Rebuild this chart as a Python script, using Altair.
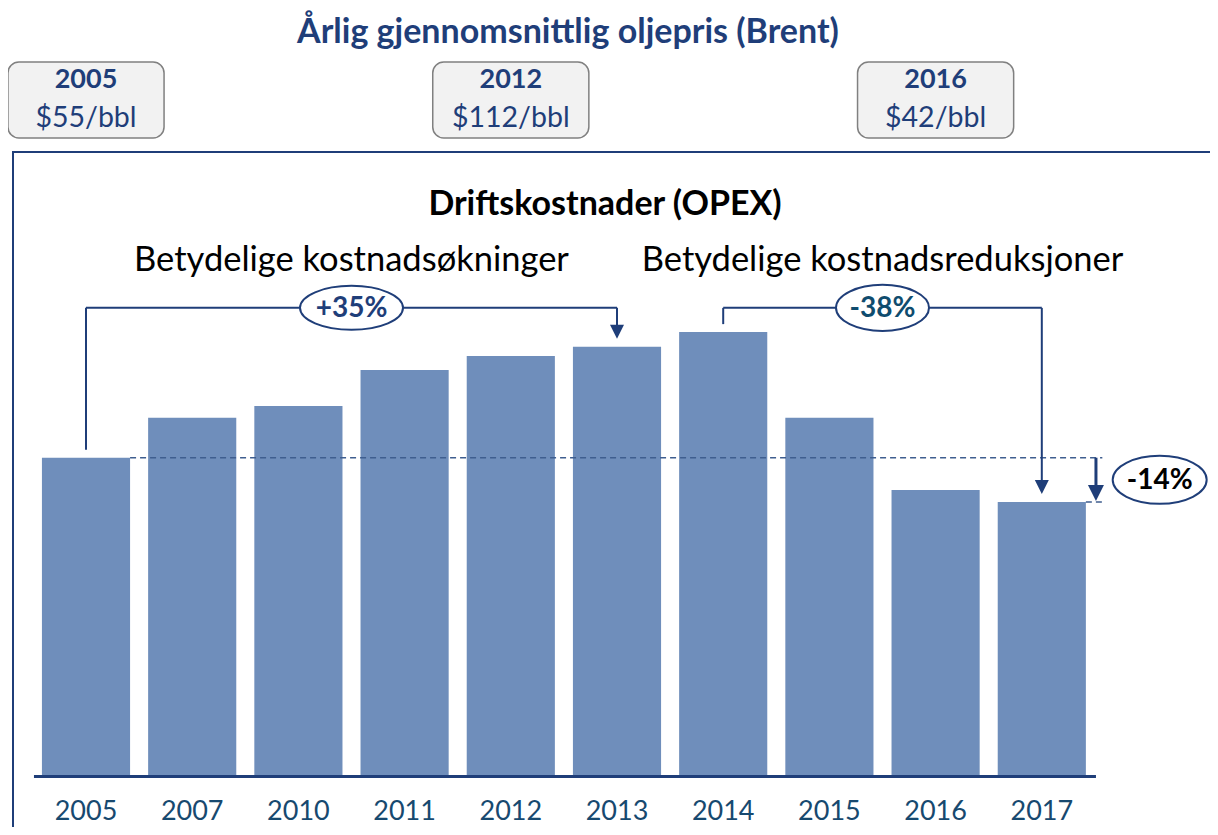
import altair as alt
import pandas as pd

# ---- data ----
years = ["2005", "2007", "2010", "2011", "2012", "2013", "2014", "2015", "2016", "2017"]
opex = [100, 112.5, 116.2, 127.5, 131.9, 134.8, 139.4, 112.5, 89.9, 86.1]   # index, 2005 = 100
price_years = ["2005", "2012", "2016"]
prices = ["$55/bbl", "$112/bbl", "$42/bbl"]
change_labels = ["+35%", "-38%", "-14%"]
headline = "Årlig gjennomsnittlig oljepris (Brent)"
subtitle = "Driftskostnader (OPEX)"
phase_labels = ["Betydelige kostnadsøkninger", "Betydelige kostnadsreduksjoner"]

# ---- layout / style ----
FONT = "Lato"
DARK = "#1F3E79"
TEAL = "#17496F"
BAR = "#6F8EBB"
W, H = 1202, 819
X0, DX = 78, 106.2      # plot px of first bar centre, px per category
Y0, DY = 768.5, 3.188   # plot px of baseline, px per index unit
xs = alt.Scale(domain=[-X0 / DX, (W - X0) / DX], nice=False, zero=False)
ys = alt.Scale(domain=[-(H - Y0) / DY, Y0 / DY], nice=False, zero=False)
HALF = 0.415
TOP = 147
GAP = 2.5

bars_df = pd.DataFrame({
    "idx": list(range(len(years))),
    "year": years,
    "value": opex,
})
bars_df["x1"] = bars_df["idx"] - HALF
bars_df["x2"] = bars_df["idx"] + HALF
bars_df["base"] = 0

X = lambda f: alt.X(f, scale=xs, axis=None)
Y = lambda f: alt.Y(f, scale=ys, axis=None)

bars = alt.Chart(bars_df).mark_bar(color=BAR).encode(
    x=X("x1:Q"), x2="x2:Q", y=Y("value:Q"), y2="base:Q"
)

ticks = alt.Chart(bars_df).mark_text(
    font=FONT, fontSize=27, color=TEAL, baseline="middle"
).encode(x=X("idx:Q"), y=alt.value(804), text="year:N")

last = len(years) - 1
i13, i14 = years.index("2013"), years.index("2014")
base_df = pd.DataFrame({"x": [-0.49], "x2": [last + 0.51], "y": [0]})
baseline = alt.Chart(base_df).mark_rule(color=DARK, strokeWidth=3).encode(
    x=X("x:Q"), x2="x2:Q", y=Y("y:Q")
)

dash_df = pd.DataFrame({
    "x": [HALF, last + HALF],
    "x2": [last + 0.57, last + 0.57],
    "y": [opex[0], opex[last]],
})
dashed = alt.Chart(dash_df).mark_rule(
    color="#3F5E8F", strokeWidth=1.5, strokeDash=[6, 4]
).encode(x=X("x:Q"), x2="x2:Q", y=Y("y:Q"))

seg_df = pd.DataFrame([
    {"x": 0, "x2": 0, "y": opex[0] + GAP, "y2": TOP, "w": 2},
    {"x": 0, "x2": i13, "y": TOP, "y2": TOP, "w": 2},
    {"x": i13, "x2": i13, "y": TOP, "y2": opex[i13] + GAP + 1, "w": 2},
    {"x": i14, "x2": i14, "y": opex[i14] + GAP, "y2": TOP, "w": 2},
    {"x": i14, "x2": last, "y": TOP, "y2": TOP, "w": 2},
    {"x": last, "x2": last, "y": TOP, "y2": opex[last] + GAP + 1, "w": 2},
    {"x": last + 0.51, "x2": last + 0.51, "y": opex[0], "y2": opex[last] + 2, "w": 3},
])
segs = alt.Chart(seg_df).mark_rule(color=DARK, strokeCap="butt").encode(
    x=X("x:Q"), x2="x2:Q", y=Y("y:Q"), y2="y2:Q",
    strokeWidth=alt.StrokeWidth("w:Q", scale=None),
)

ARROW = "M -1 -2 L 1 -2 L 0 0 Z"
tip_df = pd.DataFrame({
    "x": [i13, last, last + 0.51],
    "y": [opex[i13] + GAP, opex[last] + GAP, opex[last] + 0.3],
    "size": [196, 196, 256],
})
tips = alt.Chart(tip_df).mark_point(
    shape=ARROW, filled=True, color=DARK, opacity=1, strokeWidth=0
).encode(x=X("x:Q"), y=Y("y:Q"), size=alt.Size("size:Q", scale=None))


def ellipse(w, h):
    r = round(h / w, 3)
    return f"M -1 0 A 1 {r} 0 1 1 1 0 A 1 {r} 0 1 1 -1 0 Z"


ell_df = pd.DataFrame({
    "x": [i13 / 2, (i14 + last) / 2, last + 1.11],
    "y": [TOP, TOP, (opex[0] + opex[last]) / 2],
    "label": change_labels,
    "shape": [ellipse(103, 44), ellipse(93, 46), ellipse(94, 48)],
    "size": [103 ** 2, 93 ** 2, 94 ** 2],
    "tc": [DARK, "#0F4C6E", "#000000"],
})
ells = alt.Chart(ell_df).mark_point(
    filled=True, color="white", stroke=DARK, strokeWidth=2, opacity=1
).encode(
    x=X("x:Q"), y=Y("y:Q"),
    shape=alt.Shape("shape:N", scale=None),
    size=alt.Size("size:Q", scale=None),
)
ell_txt = alt.Chart(ell_df).mark_text(
    font=FONT, fontSize=28, fontWeight="bold", baseline="middle", dy=1
).encode(
    x=X("x:Q"), y=Y("y:Q"), text="label:N",
    color=alt.Color("tc:N", scale=None),
)

phase_df = pd.DataFrame({"x": [i13 / 2, (i14 + last) / 2], "label": phase_labels})
phase = alt.Chart(phase_df).mark_text(
    font=FONT, fontSize=34.5, color="#000000", baseline="middle"
).encode(x=X("x:Q"), y=alt.value(253), text="label:N")

box_df = pd.DataFrame({"year": price_years, "price": prices})
box_df["idx"] = [years.index(y) for y in price_years]
box_df["x1"] = box_df["idx"] - 0.735
box_df["x2"] = box_df["idx"] + 0.735
boxes = alt.Chart(box_df).mark_rect(
    fill="#F2F2F2", stroke="#808080", strokeWidth=1.5, cornerRadius=11
).encode(x=X("x1:Q"), x2="x2:Q", y=alt.value(54), y2=alt.value(130))
box_year = alt.Chart(box_df).mark_text(
    font=FONT, fontSize=27, fontWeight="bold", color=DARK, baseline="middle"
).encode(x=X("idx:Q"), y=alt.value(72), text="year:N")
box_price = alt.Chart(box_df).mark_text(
    font=FONT, fontSize=28.5, color=DARK, baseline="middle"
).encode(x=X("idx:Q"), y=alt.value(110), text="price:N")

title_df = pd.DataFrame({"t": [headline]})
title = alt.Chart(title_df).mark_text(
    font=FONT, fontSize=34, fontWeight="bold", color=DARK, baseline="middle"
).encode(x=alt.value(560), y=alt.value(25), text="t:N")

sub_df = pd.DataFrame({"t": [subtitle]})
sub = alt.Chart(sub_df).mark_text(
    font=FONT, fontSize=34, fontWeight="bold", color="#000000", baseline="middle"
).encode(x=alt.value(597), y=alt.value(197), text="t:N")

frame_df = pd.DataFrame({"k": ["v"]})
frame_v = alt.Chart(frame_df).mark_rule(color=DARK, strokeWidth=2).encode(
    x=alt.value(5), y=alt.value(144), y2=alt.value(H)
)
frame_h = alt.Chart(frame_df).mark_rule(color=DARK, strokeWidth=2).encode(
    x=alt.value(4), x2=alt.value(W), y=alt.value(144)
)

chart = alt.layer(
    frame_v, frame_h, bars, dashed, baseline, segs, tips, ells, ell_txt,
    ticks, phase, boxes, box_year, box_price, title, sub,
).properties(
    width=W, height=H, padding=0, autosize="none"
).configure_view(stroke=None)

chart.save("out.html", embed_options={"renderer": "svg", "actions": False})
